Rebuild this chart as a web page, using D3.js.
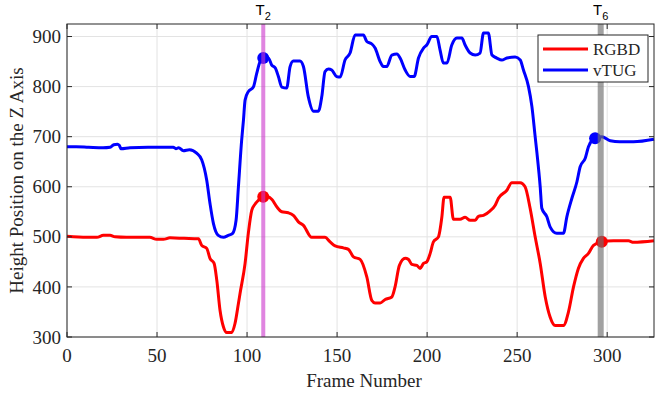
<!DOCTYPE html>
<html>
<head>
<meta charset="utf-8">
<script src="https://cdn.jsdelivr.net/npm/d3@7"></script>
<style>
  body { margin: 0; background: #fff; }
  svg { display: block; }
</style>
</head>
<body>
<svg id="Canvas" width="655" height="393"></svg>
<script>
// frame / height pairs
var rgbdPoints = [
  [0,501],[11,499],[16.6,499],[20.2,503],[23.9,503],[26.7,500],[33,499],[46,499],[49.8,495],[53.5,495],
  [57.2,498],[65,497],[73,496],[74.8,483],[77.6,477],[79.4,457],[81.7,447],[83.2,413],[85,353],[86.9,320],
  [88.7,309],[91.5,309],[93.3,327],[95.2,367],[96.1,387],[98.9,447],[100.7,507],[102.6,553],[104.4,565],
  [106.3,573],[109,580],[111.8,580],[113.7,575],[116.5,560],[119.3,550],[122.9,548],[125.7,543],[128.5,530],
  [131.3,523],[135.9,499],[143.3,499],[146.1,490],[148.9,482],[153.5,478],[156.3,475],[159.1,460],[162.8,455],
  [166.5,420],[169.3,373],[171.1,368],[173.9,368],[176.7,375],[180.4,380],[182.2,400],[184.6,443],[187.8,457],
  [189.6,455],[191.5,445],[194.3,443],[196.1,437],[198,447],[199.8,450],[201.7,467],[203.5,490],[206.3,500],
  [208.2,540],[209.4,579],[212.8,579],[214.6,535],[218.3,535],[221.1,539],[223.9,533],[226.7,533],[228.5,541],
  [231.3,543],[235,552],[237.8,563],[239.6,577],[244.3,593],[247,608],[251.7,608],[254.4,600],[257.2,557],
  [260,500],[262.8,447],[265.6,380],[268.3,340],[271.1,323],[275.7,323],[278.5,350],[281.3,400],[284,437],
  [286.8,457],[289.6,467],[292.4,483],[297,490],[303.5,492],[311.8,492],[314.6,489],[326,492]
];

var vtugPoints = [
  [0,680],[5,680],[12,679],[20,678],[24,679],[26,684],[28,685],[29,683],[30,676],[35,678],[45,679],[55,679],
  [59,679],[60.5,676],[62,678],[64.6,672],[68,674],[72,667],[74.8,654],[77.6,613],[79.4,567],[81.3,527],
  [84,503],[86.9,499],[89.6,503],[92,507],[93.9,533],[95.2,600],[97,693],[98,733],[98.9,773],[100.7,790],
  [103.5,799],[105.4,827],[107.2,850],[109,857],[111.8,857],[113.7,843],[115.7,837],[117.4,820],[119.3,799],
  [122,797],[123.9,840],[125.7,851],[129.4,851],[131.3,840],[134,780],[136.9,751],[139.6,751],[141.5,780],
  [143.3,830],[145.2,835],[147,833],[149.8,820],[151.7,819],[154.4,853],[157.2,867],[160,903],[164.6,903],
  [166.5,890],[169.3,885],[171.1,877],[173.9,850],[175.7,840],[177.6,840],[180.4,863],[183.2,865],[185,857],
  [187.8,833],[190.6,820],[192.8,820],[195.2,857],[198,877],[199.8,883],[202.6,900],[205.4,900],[207.2,873],
  [209,847],[211,847],[213.7,883],[216.5,897],[219.3,897],[221.1,883],[223.9,867],[226.7,863],[229.4,867],
  [231.3,907],[234,907],[236,863],[238.7,857],[241.5,853],[244.3,857],[248.9,859],[251.7,853],[253.5,833],
  [256.3,800],[258.2,760],[260,700],[261,667],[262.8,600],[263.7,557],[266.5,540],[268.3,520],[272,507],
  [275.7,507],[277.6,540],[280.4,577],[283.2,610],[285,640],[287.8,657],[289.6,680],[292.4,695],[293.3,697],
  [297,700],[301.7,692],[307,690],[314.6,690],[326,695]
];

var seriesNames = ["RGBD", "vTUG"];
var xTicks = [0, 50, 100, 150, 200, 250, 300];
var yTicks = [300, 400, 500, 600, 700, 800, 900];

// event markers (T2, T6)
var eventFrames = [109, 296.4];
var eventSubs = ["2", "6"];
// highlighted points on each series
var rgbdDots = [[109, 580], [297, 490]];
var vtugDots = [[109, 857], [293.3, 697]];

function drawChart() {
  var svg = d3.select("#Canvas");
  var left = 67, right = 654, top = 24, bottom = 337;
  var axisColor = "#262626";
  var serif = "'Liberation Serif', 'Times New Roman', serif";

  var x = d3.scaleLinear().domain([0, 326]).range([left, right]);
  var y = d3.scaleLinear().domain([300, 925]).range([bottom, top]);

  // grid
  var grid = svg.append("g");
  xTicks.forEach(function (t) {
    grid.append("line")
      .attr("x1", x(t)).attr("x2", x(t))
      .attr("y1", top).attr("y2", bottom)
      .style("stroke", "#e3e3e3").style("stroke-width", 1);
  });
  yTicks.forEach(function (t) {
    grid.append("line")
      .attr("x1", left).attr("x2", right)
      .attr("y1", y(t)).attr("y2", y(t))
      .style("stroke", "#e3e3e3").style("stroke-width", 1);
  });

  var line = d3.line()
    .x(function (d) { return x(d[0]); })
    .y(function (d) { return y(d[1]); })
    .curve(d3.curveMonotoneX);

  svg.append("path").datum(rgbdPoints)
    .attr("d", line)
    .style("fill", "none").style("stroke", "#ff0000")
    .style("stroke-width", 3).style("stroke-linejoin", "round");

  svg.append("path").datum(vtugPoints)
    .attr("d", line)
    .style("fill", "none").style("stroke", "#0000ff")
    .style("stroke-width", 3).style("stroke-linejoin", "round");

  svg.selectAll(".rdot").data(rgbdDots).enter().append("circle")
    .attr("cx", function (d) { return x(d[0]); })
    .attr("cy", function (d) { return y(d[1]); })
    .attr("r", 6).style("fill", "#ff0000");

  svg.selectAll(".bdot").data(vtugDots).enter().append("circle")
    .attr("cx", function (d) { return x(d[0]); })
    .attr("cy", function (d) { return y(d[1]); })
    .attr("r", 6).style("fill", "#0000ff");

  // event bands
  var bandColors = ["rgba(204, 51, 204, 0.6)", "rgba(110, 110, 110, 0.65)"];
  var bandWidths = [4, 6];
  eventFrames.forEach(function (f, i) {
    svg.append("line")
      .attr("x1", x(f)).attr("x2", x(f))
      .attr("y1", top).attr("y2", bottom)
      .style("stroke", bandColors[i]).style("stroke-width", bandWidths[i]);

    var t = svg.append("text")
      .attr("x", x(f)).attr("y", 15)
      .attr("text-anchor", "middle")
      .style("font-family", "'Liberation Sans', Arial, sans-serif")
      .style("font-size", "15px").style("fill", "#000");
    t.append("tspan").text("T");
    t.append("tspan").attr("dy", 5).style("font-size", "11px").text(eventSubs[i]);
  });

  // axes box
  svg.append("rect")
    .attr("x", left).attr("y", top)
    .attr("width", right - left).attr("height", bottom - top)
    .style("fill", "none").style("stroke", axisColor).style("stroke-width", 1);

  var tickLen = 5;
  xTicks.forEach(function (t) {
    svg.append("line").attr("x1", x(t)).attr("x2", x(t))
      .attr("y1", bottom).attr("y2", bottom - tickLen).style("stroke", axisColor);
    svg.append("line").attr("x1", x(t)).attr("x2", x(t))
      .attr("y1", top).attr("y2", top + tickLen).style("stroke", axisColor);
    svg.append("text")
      .attr("x", x(t)).attr("y", 362)
      .attr("text-anchor", "middle")
      .style("font-family", serif).style("font-size", "19px")
      .style("fill", axisColor).text(t);
  });
  yTicks.forEach(function (t) {
    svg.append("line").attr("x1", left).attr("x2", left + tickLen)
      .attr("y1", y(t)).attr("y2", y(t)).style("stroke", axisColor);
    svg.append("line").attr("x1", right).attr("x2", right - tickLen)
      .attr("y1", y(t)).attr("y2", y(t)).style("stroke", axisColor);
    svg.append("text")
      .attr("x", 61).attr("y", y(t)).attr("dy", "0.35em")
      .attr("text-anchor", "end")
      .style("font-family", serif).style("font-size", "19px")
      .style("fill", axisColor).text(t);
  });

  svg.append("text")
    .attr("x", 364).attr("y", 387)
    .attr("text-anchor", "middle")
    .style("font-family", serif).style("font-size", "19px")
    .style("fill", axisColor).text("Frame Number");

  svg.append("text")
    .attr("transform", "translate(23," + (top + bottom) / 2 + ") rotate(-90)")
    .attr("text-anchor", "middle")
    .style("font-family", serif).style("font-size", "19px")
    .style("fill", axisColor).text("Height Position on the Z Axis");

  // legend
  var lg = svg.append("g");
  lg.append("rect")
    .attr("x", 538).attr("y", 35).attr("width", 110).attr("height", 47)
    .style("fill", "#fff").style("stroke", axisColor).style("stroke-width", 1);
  var legendColors = ["#ff0000", "#0000ff"];
  seriesNames.forEach(function (name, i) {
    var ly = 49 + i * 21;
    lg.append("line")
      .attr("x1", 543).attr("x2", 588).attr("y1", ly).attr("y2", ly)
      .style("stroke", legendColors[i]).style("stroke-width", 3);
    lg.append("text")
      .attr("x", 593).attr("y", ly).attr("dy", "0.35em")
      .style("font-family", serif).style("font-size", "17px")
      .style("fill", axisColor).text(name);
  });
}

drawChart();
</script>
</body>
</html>
